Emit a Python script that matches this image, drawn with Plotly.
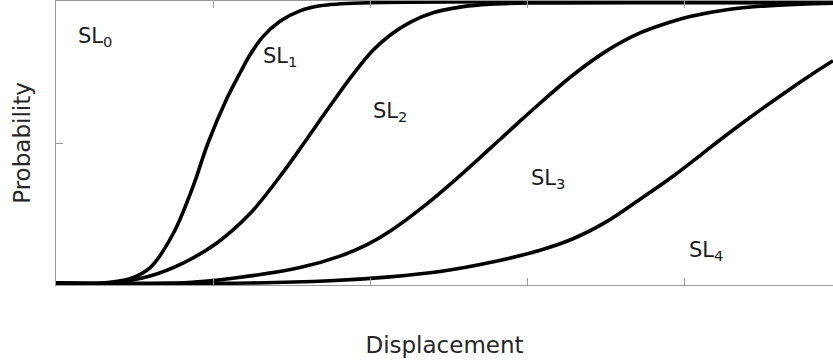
import plotly.graph_objects as go

# Values (displacement in axis units, probability 0..1)
sl1_x = [0, 0.30, 0.47, 0.60, 0.745, 0.873, 0.968, 1.089, 1.172, 1.236, 1.318, 1.427, 1.554, 1.682, 1.94, 5.0]
sl1_p = [0, 0, 0.015, 0.055, 0.175, 0.345, 0.5, 0.66, 0.75, 0.815, 0.88, 0.935, 0.972, 0.99, 1.0, 1.0]

sl2_x = [0, 0.344, 0.599, 0.809, 1.025, 1.236, 1.446, 1.580, 1.745, 1.892, 2.019, 2.127, 2.255, 2.401, 2.592, 2.764, 3.019, 5.0]
sl2_p = [0, 0, 0.025, 0.071, 0.143, 0.248, 0.395, 0.5, 0.632, 0.745, 0.831, 0.885, 0.931, 0.965, 0.987, 0.996, 1.0, 1.0]

sl3_x = [0, 0.790, 1.127, 1.554, 1.809, 1.981, 2.127, 2.338, 2.554, 2.701, 2.803, 2.955, 3.083, 3.293,
         3.510, 3.720, 3.930, 4.038, 4.293, 4.503, 4.739, 5.0]
sl3_p = [0, 0, 0.017, 0.055, 0.096, 0.137, 0.185, 0.272, 0.374, 0.448, 0.5, 0.578, 0.642, 0.743,
         0.830, 0.893, 0.935, 0.952, 0.978, 0.989, 0.996, 1.0]

sl4_x = [0, 1.236, 1.745, 2.127, 2.446, 2.764, 3.083, 3.293, 3.510, 3.720, 3.930, 4.102, 4.204, 4.420, 4.631, 4.841, 4.949]
sl4_p = [0, 0, 0.008, 0.022, 0.041, 0.073, 0.117, 0.158, 0.220, 0.299, 0.381, 0.455, 0.5, 0.591, 0.675, 0.755, 0.794]

x_ticks = [1, 2, 3, 4]
y_ticks = [0.5]

labels = ["SL<sub>0</sub>", "SL<sub>1</sub>", "SL<sub>2</sub>", "SL<sub>3</sub>", "SL<sub>4</sub>"]
label_x = [0.127, 1.306, 2.006, 3.013, 4.019]
label_y = [0.877, 0.807, 0.611, 0.373, 0.114]

FONT = "DejaVu Sans"

fig = go.Figure()
for xs, ps in [(sl1_x, sl1_p), (sl2_x, sl2_p), (sl3_x, sl3_p), (sl4_x, sl4_p)]:
    fig.add_trace(go.Scatter(x=xs, y=ps, mode="lines",
                             line=dict(color="black", width=3.6, shape="spline", smoothing=1.0),
                             showlegend=False, hoverinfo="skip"))

for t, lx, ly in zip(labels, label_x, label_y):
    fig.add_annotation(x=lx, y=ly, text=t, showarrow=False, xanchor="left", yanchor="middle",
                       font=dict(family=FONT, size=21, color="#1a1a1a"))

axis_gray = "#9a9a9a"
pad = 2 / 280
fig.update_layout(
    width=833, height=362,
    margin=dict(l=56, r=0, t=1, b=77, autoexpand=False),
    plot_bgcolor="white", paper_bgcolor="white",
    font=dict(family=FONT, color="#262626"),
    xaxis=dict(range=[0, 777 / 157], showgrid=False, zeroline=False,
               showline=True, linecolor=axis_gray, linewidth=1, mirror="ticks",
               ticks="inside", ticklen=7, tickcolor=axis_gray, tickwidth=1,
               tickvals=x_ticks, showticklabels=False,
               title=dict(text="Displacement", font=dict(family=FONT, size=23, color="#262626"), standoff=51),
               automargin=False),
    yaxis=dict(range=[-pad, 1 + pad], showgrid=False, zeroline=False,
               showline=True, linecolor=axis_gray, linewidth=1, mirror=False,
               ticks="inside", ticklen=7, tickcolor=axis_gray, tickwidth=1,
               tickvals=y_ticks, showticklabels=False,
               title=dict(text="Probability", font=dict(family=FONT, size=23, color="#262626"), standoff=17),
               automargin=False),
)

fig.write_html("out.html", config={"displayModeBar": False},
               post_script="document.body.style.margin='0px';document.body.style.overflow='hidden';")
